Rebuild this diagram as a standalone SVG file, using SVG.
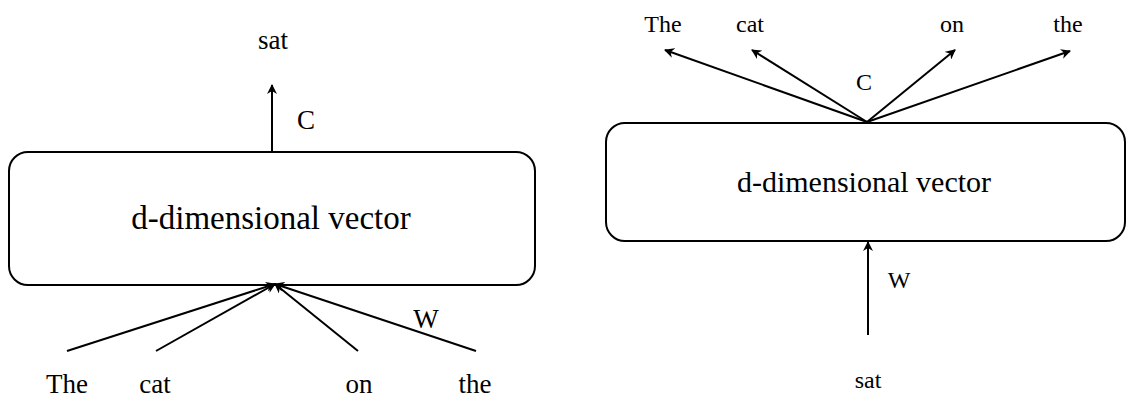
<svg xmlns="http://www.w3.org/2000/svg" width="1127" height="399" viewBox="0 0 1127 399">
<style>
.box{fill:#fff;stroke:#000;stroke-width:2}
.ln{fill:none;stroke:#000;stroke-width:2;marker-end:url(#ah)}
text{font-family:"Liberation Serif","Times New Roman",serif;fill:#000;text-anchor:middle}
.wl{font-size:27px}
.wr{font-size:24px}
.bigl{font-size:33px}
.bigr{font-size:30px}
</style>
<defs>
<marker id="ah" viewBox="0 0 10 10" refX="9" refY="5" markerWidth="5" markerHeight="5" orient="auto" markerUnits="strokeWidth">
<path d="M0,0 L10,5 L0,10 L3,5 Z" fill="#000"/>
</marker>
</defs>
<g id="left-box">
<rect class="box" x="9" y="152" width="526" height="133" rx="19"/>
<text class="bigl" x="271" y="229">d-dimensional vector</text>
</g>
<g id="right-box">
<rect class="box" x="606" y="123" width="519" height="118" rx="19"/>
<text class="bigr" x="864" y="192">d-dimensional vector</text>
</g>
<g id="labels">
<text class="wl" x="273" y="49">sat</text>
<text class="wl" x="306" y="129">C</text>
<text class="wl" x="426" y="328">W</text>
<text class="wl" x="67" y="393">The</text>
<text class="wl" x="155" y="393">cat</text>
<text class="wl" x="359" y="393">on</text>
<text class="wl" x="475" y="393">the</text>
<text class="wr" x="663" y="32">The</text>
<text class="wr" x="750" y="32">cat</text>
<text class="wr" x="952" y="32">on</text>
<text class="wr" x="1068" y="32">the</text>
<text class="wr" x="864" y="90">C</text>
<text class="wr" x="899" y="288">W</text>
<text class="wr" x="868" y="388">sat</text>
</g>
<g id="connectors">
<line class="ln" x1="272" y1="151" x2="272" y2="85"/>
<line class="ln" x1="67" y1="351" x2="275" y2="284"/>
<line class="ln" x1="156" y1="351" x2="275" y2="284"/>
<line class="ln" x1="358" y1="351" x2="275" y2="284"/>
<line class="ln" x1="476" y1="351" x2="275" y2="284"/>
<line class="ln" x1="867" y1="122" x2="665" y2="50"/>
<line class="ln" x1="867" y1="122" x2="752" y2="50"/>
<line class="ln" x1="867" y1="122" x2="955" y2="50"/>
<line class="ln" x1="867" y1="122" x2="1070" y2="51"/>
<line class="ln" x1="868" y1="335" x2="868" y2="242"/>
</g>
</svg>
